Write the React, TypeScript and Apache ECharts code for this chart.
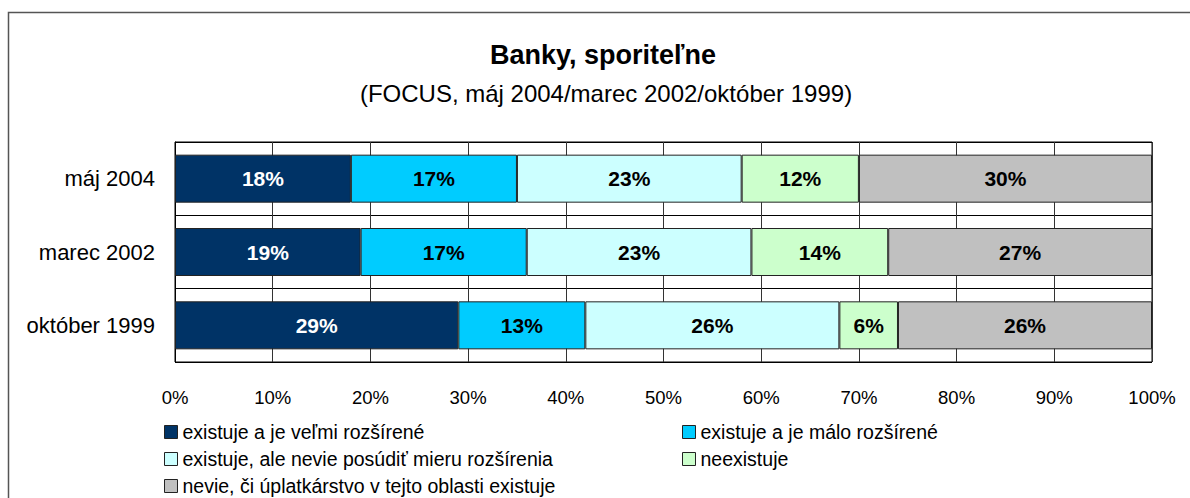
import React, { useEffect, useRef } from "react";
import * as echarts from "echarts";

const categories = ["máj 2004", "marec 2002", "október 1999"];
const seriesNames = [
  "existuje a je veľmi rozšírené",
  "existuje a je málo rozšírené",
  "existuje, ale nevie posúdiť mieru rozšírenia",
  "neexistuje",
  "nevie, či úplatkárstvo v tejto oblasti existuje",
];
const veryWide = [18, 19, 29];
const littleWide = [17, 17, 13];
const cannotJudge = [23, 23, 26];
const notExist = [12, 14, 6];
const dontKnow = [30, 27, 26];
const seriesValues = [veryWide, littleWide, cannotJudge, notExist, dontKnow];
const colors = ["#003366", "#00CCFF", "#CCFFFF", "#CCFFCC", "#C0C0C0"];
const labelColors = ["#FFFFFF", "#000000", "#000000", "#000000", "#000000"];
const titleText = "Banky, sporiteľne";
const subtitleText = "(FOCUS, máj 2004/marec 2002/október 1999)";

const FONT = "'Liberation Sans', Arial, sans-serif";

export default function App() {
  const ref = useRef<HTMLDivElement>(null);
  useEffect(() => {
    if (!ref.current) return;
    const chart = echarts.init(ref.current, null, { renderer: "svg" });
    const legendPos = [
      { left: 164, top: 422 },
      { left: 682, top: 422 },
      { left: 164, top: 449 },
      { left: 682, top: 449 },
      { left: 164, top: 476 },
    ];
    chart.setOption({
      animation: false,
      backgroundColor: "#FFFFFF",
      textStyle: { fontFamily: FONT },
      title: [
        {
          text: titleText,
          left: 598,
          top: 36,
          textAlign: "center",
          textStyle: { fontFamily: FONT, fontSize: 27, fontWeight: "bold", color: "#000" },
        },
        {
          text: subtitleText,
          left: 601,
          top: 76,
          textAlign: "center",
          textStyle: { fontFamily: FONT, fontSize: 24, fontWeight: "normal", color: "#000" },
        },
      ],
      graphic: [
        {
          type: "rect",
          shape: { x: 8.5, y: 12.5, width: 1200, height: 500 },
          style: { fill: "none", stroke: "#555", lineWidth: 1.5 },
          silent: true,
          z: -1,
        },
      ],
      legend: seriesNames.map((name, i) => ({
        data: [name],
        left: legendPos[i].left,
        top: legendPos[i].top,
        itemWidth: 13,
        itemHeight: 13,
        itemGap: 0,
        padding: 0,
        icon: "rect",
        selectedMode: false,
        itemStyle: { borderColor: "#222", borderWidth: 1 },
        textStyle: { fontFamily: FONT, fontSize: 19.5, color: "#000" },
      })),
      grid: {
        left: 175,
        right: 38,
        top: 142,
        bottom: 136,
        show: true,
        borderColor: "#000",
        borderWidth: 1,
        containLabel: false,
      },
      xAxis: {
        type: "value",
        min: 0,
        max: 100,
        interval: 10,
        axisLine: { show: false },
        axisTick: { show: false },
        axisLabel: {
          formatter: "{value}%",
          fontFamily: FONT,
          fontSize: 18.5,
          color: "#000",
          margin: 26,
        },
        splitLine: { show: true, lineStyle: { color: "#333", width: 1 } },
      },
      yAxis: {
        type: "category",
        data: categories,
        inverse: true,
        axisLine: { show: true, lineStyle: { color: "#000" } },
        axisTick: { show: false },
        axisLabel: { fontFamily: FONT, fontSize: 22, color: "#000", margin: 20 },
        splitLine: { show: true, lineStyle: { color: "#000", width: 1 } },
      },
      series: seriesNames.map((name, i) => ({
        name,
        type: "bar",
        stack: "total",
        barWidth: 48,
        data: seriesValues[i],
        itemStyle: { color: colors[i], borderColor: "#222", borderWidth: 1 },
        label: {
          show: true,
          position: "inside",
          formatter: "{c}%",
          fontFamily: FONT,
          fontSize: 21,
          fontWeight: "bold",
          color: labelColors[i],
        },
      })),
    });
    return () => chart.dispose();
  }, []);
  return (
    <div
      ref={ref}
      style={{ position: "absolute", left: 0, top: 0, width: 1190, height: 498 }}
    />
  );
}
